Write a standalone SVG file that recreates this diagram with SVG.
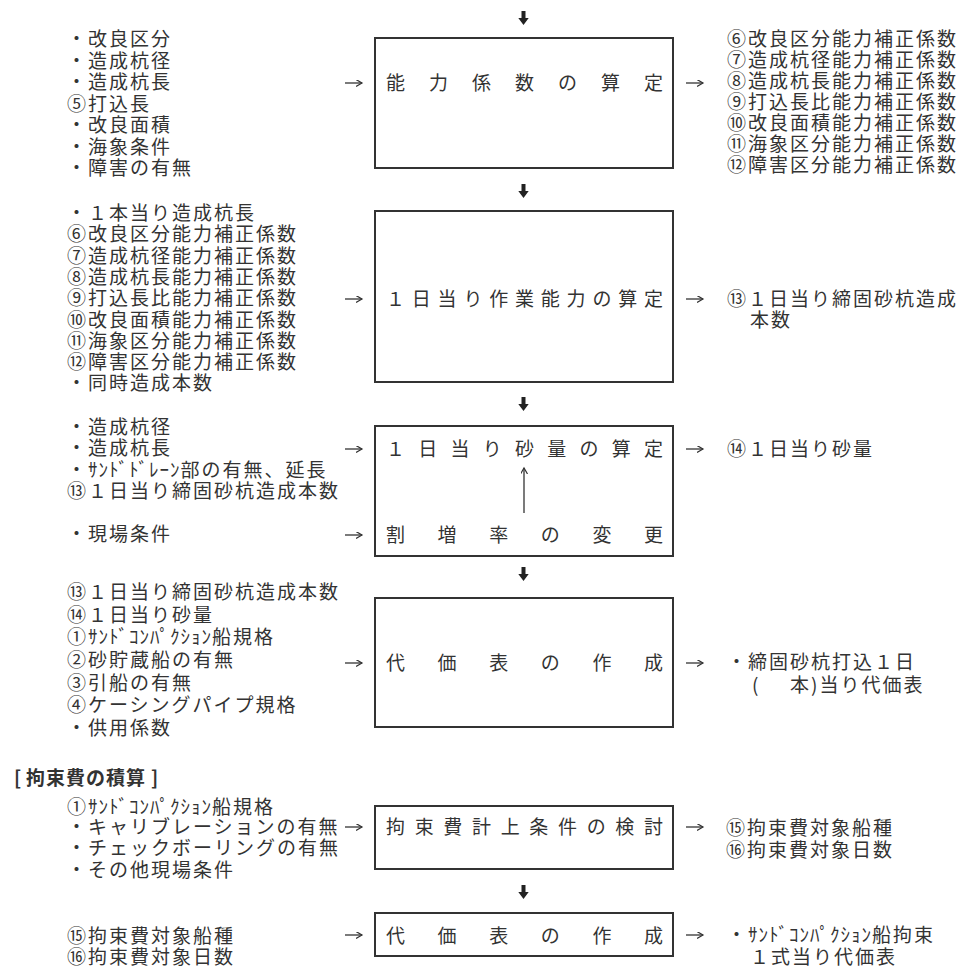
<svg xmlns="http://www.w3.org/2000/svg" width="963" height="971" viewBox="0 0 963 971">
<style>
text{font-family:"Noto Sans CJK JP","Noto Sans CJK SC",sans-serif;font-size:19px;fill:#333;letter-spacing:2px}
.box{fill:none;stroke:#333;stroke-width:2}
.lbl{letter-spacing:0}
.hw{letter-spacing:1px}
.arr{stroke:#333;stroke-width:1.3;fill:none}
.title{font-weight:bold}
</style>
<defs>
<marker id="ah" markerUnits="userSpaceOnUse" markerWidth="10" markerHeight="10" refX="6" refY="3.5" orient="auto">
<path d="M0,0 L6,3.5 L0,7" fill="none" stroke="#333" stroke-width="1.2"/>
</marker>
<path id="da" d="M-2,0 H2 V7 H5.2 L0,14 L-5.2,7 H-2 Z" fill="#222"/>
</defs>

<g id="node-1">
<rect class="box" x="375" y="38" width="298" height="130"/>
<text class="lbl" x="386" y="90" textLength="277" lengthAdjust="spacing">能力係数の算定</text>
</g>
<g id="in-1">
<text x="67" y="46">・改良区分</text>
<text x="67" y="67.5">・造成杭径</text>
<text x="67" y="89">・造成杭長</text>
<text x="67" y="110.5">⑤打込長</text>
<text x="67" y="132">・改良面積</text>
<text x="67" y="153.5">・海象条件</text>
<text x="67" y="175">・障害の有無</text>
</g>
<g id="out-1">
<text x="727" y="46">⑥改良区分能力補正係数</text>
<text x="727" y="67">⑦造成杭径能力補正係数</text>
<text x="727" y="88">⑧造成杭長能力補正係数</text>
<text x="727" y="109">⑨打込長比能力補正係数</text>
<text x="727" y="130">⑩改良面積能力補正係数</text>
<text x="727" y="151">⑪海象区分能力補正係数</text>
<text x="727" y="172">⑫障害区分能力補正係数</text>
</g>

<g id="node-2">
<rect class="box" x="375" y="211" width="298" height="171"/>
<text class="lbl" x="386" y="306" textLength="277" lengthAdjust="spacing">１日当り作業能力の算定</text>
</g>
<g id="in-2">
<text x="67" y="220">・１本当り造成杭長</text>
<text x="67" y="241.3">⑥改良区分能力補正係数</text>
<text x="67" y="262.6">⑦造成杭径能力補正係数</text>
<text x="67" y="284">⑧造成杭長能力補正係数</text>
<text x="67" y="305.2">⑨打込長比能力補正係数</text>
<text x="67" y="326.5">⑩改良面積能力補正係数</text>
<text x="67" y="347.8">⑪海象区分能力補正係数</text>
<text x="67" y="369">⑫障害区分能力補正係数</text>
<text x="67" y="390.4">・同時造成本数</text>
</g>
<g id="out-2">
<text x="727" y="306">⑬１日当り締固砂杭造成</text>
<text x="750" y="327">本数</text>
</g>

<g id="node-3">
<rect class="box" x="375" y="426" width="298" height="130"/>
<text class="lbl" x="386" y="456" textLength="277" lengthAdjust="spacing">１日当り砂量の算定</text>
<text class="lbl" x="386" y="542" textLength="277" lengthAdjust="spacing">割増率の変更</text>
</g>
<g id="in-3">
<text x="67" y="434">・造成杭径</text>
<text x="67" y="455">・造成杭長</text>
<text x="67" y="477">・<tspan class="hw">ｻﾝﾄﾞﾄﾞﾚｰﾝ</tspan>部の有無、延長</text>
<text x="67" y="498">⑬１日当り締固砂杭造成本数</text>
<text x="67" y="541">・現場条件</text>
</g>
<g id="out-3">
<text x="727" y="456">⑭１日当り砂量</text>
</g>

<g id="node-4">
<rect class="box" x="375" y="598" width="298" height="129"/>
<text class="lbl" x="386" y="670" textLength="277" lengthAdjust="spacing">代価表の作成</text>
</g>
<g id="in-4">
<text x="67" y="599">⑬１日当り締固砂杭造成本数</text>
<text x="67" y="621.7">⑭１日当り砂量</text>
<text x="67" y="644.3">①<tspan class="hw">ｻﾝﾄﾞｺﾝﾊﾟｸｼｮﾝ</tspan>船規格</text>
<text x="67" y="667">②砂貯蔵船の有無</text>
<text x="67" y="689.7">③引船の有無</text>
<text x="67" y="712.3">④ケーシングパイプ規格</text>
<text x="67" y="735">・供用係数</text>
</g>
<g id="out-4">
<text x="727" y="669">・締固砂杭打込１日</text>
<text x="752" y="692">(<tspan x="790">本)当り代価表</tspan></text>
</g>

<g id="section-title">
<text class="title" x="14" y="785">[<tspan x="26" style="letter-spacing:1px">拘束費の積算</tspan><tspan x="151">]</tspan></text>
</g>

<g id="node-5">
<rect class="box" x="375" y="806" width="298" height="63"/>
<text class="lbl" x="386" y="834" textLength="277" lengthAdjust="spacing">拘束費計上条件の検討</text>
</g>
<g id="in-5">
<text x="67" y="814">①<tspan class="hw">ｻﾝﾄﾞｺﾝﾊﾟｸｼｮﾝ</tspan>船規格</text>
<text x="67" y="834">・キャリブレーションの有無</text>
<text x="67" y="855">・チェックボーリングの有無</text>
<text x="67" y="877">・その他現場条件</text>
</g>
<g id="out-5">
<text x="726" y="835">⑮拘束費対象船種</text>
<text x="726" y="857">⑯拘束費対象日数</text>
</g>

<g id="node-6">
<rect class="box" x="375" y="913" width="298" height="43"/>
<text class="lbl" x="386" y="943" textLength="277" lengthAdjust="spacing">代価表の作成</text>
</g>
<g id="in-6">
<text x="67" y="943">⑮拘束費対象船種</text>
<text x="67" y="964">⑯拘束費対象日数</text>
</g>
<g id="out-6">
<text x="727" y="942">・<tspan class="hw">ｻﾝﾄﾞｺﾝﾊﾟｸｼｮﾝ</tspan>船拘束</text>
<text x="750" y="964">１式当り代価表</text>
</g>

<g id="connectors">
<use href="#da" x="523.5" y="11"/>
<use href="#da" x="523.5" y="184"/>
<use href="#da" x="523.5" y="397"/>
<use href="#da" x="523.5" y="567"/>
<use href="#da" x="523.5" y="885"/>
<line class="arr" x1="345" y1="83" x2="362" y2="83" marker-end="url(#ah)"/>
<line class="arr" x1="686" y1="83" x2="703" y2="83" marker-end="url(#ah)"/>
<line class="arr" x1="345" y1="299" x2="362" y2="299" marker-end="url(#ah)"/>
<line class="arr" x1="686" y1="299" x2="703" y2="299" marker-end="url(#ah)"/>
<line class="arr" x1="345" y1="449" x2="362" y2="449" marker-end="url(#ah)"/>
<line class="arr" x1="686" y1="449" x2="703" y2="449" marker-end="url(#ah)"/>
<line class="arr" x1="345" y1="535" x2="362" y2="535" marker-end="url(#ah)"/>
<line class="arr" x1="524" y1="513" x2="524" y2="468" marker-end="url(#ah)"/>
<line class="arr" x1="345" y1="663" x2="362" y2="663" marker-end="url(#ah)"/>
<line class="arr" x1="686" y1="663" x2="703" y2="663" marker-end="url(#ah)"/>
<line class="arr" x1="345" y1="827" x2="362" y2="827" marker-end="url(#ah)"/>
<line class="arr" x1="686" y1="827" x2="703" y2="827" marker-end="url(#ah)"/>
<line class="arr" x1="345" y1="935" x2="362" y2="935" marker-end="url(#ah)"/>
<line class="arr" x1="686" y1="935" x2="703" y2="935" marker-end="url(#ah)"/>
</g>
</svg>
